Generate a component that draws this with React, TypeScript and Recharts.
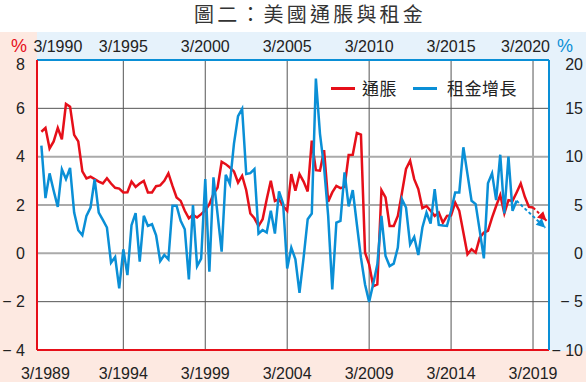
import React from 'react';
import { LineChart, Line, XAxis, YAxis, ReferenceLine, Legend } from 'recharts';

// Quarterly values, index 0 = 3/1989 (bottom axis) for inflation
const inflationValues = [
  5.03, 5.19, 4.34, 4.63, 5.19, 4.72, 6.18, 6.07, 4.9, 4.63,
  3.39, 3.1, 3.17, 3.07, 2.97, 2.89, 3.11, 2.89, 2.71, 2.68,
  2.52, 2.53, 2.97, 2.75, 2.89, 3.0, 2.52, 2.52, 2.78, 2.81,
  3.0, 3.31, 2.79, 2.31, 2.17, 1.76, 1.45, 1.59, 1.48, 1.62,
  1.78, 2.03, 2.45, 2.72, 3.79, 3.69, 3.55, 3.39, 2.93, 3.21,
  2.61, 1.65, 1.45, 1.13, 1.41, 2.24, 3.0, 2.17, 2.24, 1.96,
  1.76, 3.28, 2.59, 3.28, 2.97, 2.56, 4.66, 3.44, 3.42, 4.27,
  2.14, 2.52, 2.79, 2.7, 2.75, 4.07, 4.08, 4.98, 4.91, 0.03,
  -0.46, -1.36, -1.29, 2.61, 2.31, 1.13, 1.13, 1.55, 2.5, 3.49,
  3.83, 3.07, 2.66, 1.87, 1.96, 1.76, 1.55, 1.69, 1.27, 1.55,
  1.57, 2.1, 1.76, 0.86, -0.04, 0.17, 0.03, 0.65, 0.86, 0.93,
  1.48, 1.96, 2.41, 1.65, 2.2, 2.17, 2.52, 2.89, 2.34, 1.92,
  1.9,
];

// Quarterly values, index 0 = 3/1990 (top axis) for rent growth
const rentValues = [
  11.14, 5.71, 8.27, 6.47, 4.81, 8.69, 7.68, 8.83, 4.22, 2.39,
  1.87, 3.88, 4.74, 7.68, 4.22, 3.46, 2.67, -0.97, -0.38, -3.63,
  0.42, -2.25, 2.91, 4.15, -0.86, 3.88, 2.84, 3.01, 1.87, -0.8,
  -0.17, -0.62, 4.92, 4.92, 3.36, 2.49, -2.7, 4.98, -1.32, -0.55,
  7.68, -1.9, 7.86, 4.05, 0.17, 8.13, 7.17, 11.32, 14.19, 14.95,
  8.2, 8.3, 8.72, 2.05, 2.42, 2.15, 4.4, 2.05, 6.4, 5.16,
  -1.56, 0.59, -0.62, -4.08, -0.45, 3.53, 4.12, 18.07, 12.36, 8.9,
  3.88, -3.74, 3.19, 3.36, 8.38, 4.85, 6.54, 3.01, -0.45, -3.22,
  -5.02, -3.15, -1.14, 3.88, -0.28, -1.32, -1.07, 0.59, 5.6, 4.74,
  0.93, 1.7, -0.17, 2.67, 4.22, 3.08, 6.65, 2.94, 2.87, 2.84,
  4.4, 6.3, 6.3, 10.97, 8.2, 5.43, 5.09, 2.32, -0.52, 7.24,
  8.27, 5.5, 10.2, 4.12, 10.0, 4.4, 5.43,
];

// Projections (dashed arrows)
const inflationForecastQuarters = [120, 123.3];
const inflationForecastValues = [1.9, 1.35];
const rentForecastQuarters = [116, 123];
const rentForecastValues = [5.43, 2.65];

const tickQuarters = [0, 20, 40, 60, 80, 100, 120];
const bottomTickLabels = ['3/1989', '3/1994', '3/1999', '3/2004', '3/2009', '3/2014', '3/2019'];
const topTickLabels = ['3/1990', '3/1995', '3/2000', '3/2005', '3/2010', '3/2015', '3/2020'];
const leftTicks = [-4, -2, 0, 2, 4, 6, 8];
const rightTicks = [-10, -5, 0, 5, 10, 15, 20];
const darkGridValues = [6, -2];
const lightGridValues = [4, 2, 0];

const seriesNames = ['通脹', '租金增長'];

const RED = '#e60f19';
const BLUE = '#0a8fd6';
const PINK = '#fde9e1';
const LIGHTBLUE = '#e6f2fb';
const TEXT = '#222';
const FONT = '"Liberation Sans", Arial, sans-serif';
const CJK = '"Noto Sans CJK TC", "Noto Sans CJK SC", sans-serif';

const inflationData = inflationValues.map((v, i) => ({ q: i, v }));
const rentData = rentValues.map((v, i) => ({ q: i, v }));
const inflationForecast = inflationForecastQuarters.map((q, i) => ({ q, v: inflationForecastValues[i] }));
const rentForecast = rentForecastQuarters.map((q, i) => ({ q, v: rentForecastValues[i] }));

const fmtY = (v: number) => (v < 0 ? `\u2212 ${Math.abs(v)}` : `${v}`);

const BottomTick = (props: any) => {
  const { x, y, payload, index } = props;
  const i = tickQuarters.indexOf(payload.value);
  return (
    <text x={x + (index === 0 ? 4 : 0)} y={y + 29} textAnchor="middle" fontFamily={FONT} fontSize={16} fill={TEXT}>
      {bottomTickLabels[i]}
    </text>
  );
};

const TopTick = (props: any) => {
  const { x, y, payload } = props;
  const i = tickQuarters.indexOf(payload.value);
  let anchor: any = 'middle';
  let dx = 0;
  if (i === 0) { anchor = 'start'; dx = -8; }
  if (i === tickQuarters.length - 1) { anchor = 'end'; dx = 17; }
  return (
    <text x={x + dx} y={y - 8} textAnchor={anchor} fontFamily={FONT} fontSize={16} fill={TEXT}>
      {topTickLabels[i]}
    </text>
  );
};

const LeftTick = (props: any) => {
  const { x, y, payload } = props;
  const top = payload.value === leftTicks[leftTicks.length - 1];
  return (
    <text x={x - 12} y={y} dy={top ? 10 : 5.5} textAnchor="end" fontFamily={FONT} fontSize={16} fill={TEXT}>
      {fmtY(payload.value)}
    </text>
  );
};

const RightTick = (props: any) => {
  const { x, y, payload } = props;
  const top = payload.value === rightTicks[rightTicks.length - 1];
  return (
    <text x={x + 34} y={y} dy={top ? 10 : 5.5} textAnchor="end" fontFamily={FONT} fontSize={16} fill={TEXT}>
      {fmtY(payload.value)}
    </text>
  );
};

const makeArrowDot = (color: string) => (props: any) => {
  const { cx, cy, index, points } = props;
  if (index !== 1 || !points || points.length < 2) return <g key={`d-${index}`} />;
  const p0 = points[0];
  const ang = Math.atan2(cy - p0.y, cx - p0.x);
  const len = 9;
  const half = 4.5;
  const bx = cx - len * Math.cos(ang);
  const by = cy - len * Math.sin(ang);
  const nx = -Math.sin(ang);
  const ny = Math.cos(ang);
  const d = `M${cx},${cy} L${bx + half * nx},${by + half * ny} L${bx - half * nx},${by - half * ny} Z`;
  return <path key={`d-${index}`} d={d} fill={color} stroke="none" />;
};

const renderLegend = (props: any) => {
  const { payload } = props;
  const items = seriesNames
    .map((n) => (payload || []).find((p: any) => p.value === n))
    .filter(Boolean);
  return (
    <div style={{ display: 'flex', alignItems: 'center', height: 20 }}>
      {items.map((p: any, i: number) => (
        <div key={p.value} style={{ display: 'flex', alignItems: 'center', marginLeft: i === 0 ? 0 : 16 }}>
          <div style={{ width: 24, height: 3, background: p.color, marginRight: i === 0 ? 7 : 10 }} />
          <span style={{ fontFamily: CJK, fontSize: 17, letterSpacing: 0.5, color: TEXT, lineHeight: '20px' }}>{p.value}</span>
        </div>
      ))}
    </div>
  );
};

const PercentLabel = (color: string, dx: number) => (props: any) => {
  const { viewBox } = props;
  return (
    <text x={viewBox.x + dx} y={viewBox.y - 8} fontFamily={FONT} fontSize={18} fill={color}>%</text>
  );
};

export default function App() {
  return (
    <div style={{ position: 'absolute', left: 0, top: 0, width: 586, height: 382, background: '#fff', overflow: 'hidden' }}>
      {/* backgrounds */}
      <div style={{ position: 'absolute', left: 0, top: 32, width: 586, height: 350, background: LIGHTBLUE }} />
      <div style={{ position: 'absolute', left: 0, top: 32, width: 37, height: 350, background: PINK }} />
      <div style={{ position: 'absolute', left: 0, top: 351, width: 586, height: 31, background: PINK }} />
      <div style={{ position: 'absolute', left: 37, top: 60, width: 512, height: 291, background: '#fff' }} />
      <div style={{ position: 'absolute', left: 194, top: 2, fontFamily: CJK, fontSize: 20, letterSpacing: 3.2, color: '#333', lineHeight: '24px', whiteSpace: 'nowrap' }}>
        圖二：美國通脹與租金
      </div>
      <div style={{ position: 'absolute', left: 0, top: 0 }}>
        <LineChart width={586} height={382} margin={{ top: 30, right: 0, bottom: 0, left: 0 }}>
          <XAxis xAxisId="b" type="number" dataKey="q" domain={[-1.07, 123.9]} allowDataOverflow ticks={tickQuarters} interval={0}
            orientation="bottom" height={32} tickLine={false} tickSize={0} tickMargin={0}
            axisLine={{ stroke: RED, strokeWidth: 2 }} tick={<BottomTick />} />
          <XAxis xAxisId="t" type="number" dataKey="q" domain={[-1.07, 123.9]} allowDataOverflow ticks={tickQuarters} interval={0}
            orientation="top" height={30} tickLine={false} tickSize={0} tickMargin={0}
            axisLine={{ stroke: BLUE, strokeWidth: 2 }} tick={<TopTick />} />
          <YAxis yAxisId="l" type="number" domain={[-4, 8]} ticks={leftTicks} interval={0} width={37}
            tickLine={false} tickSize={0} tickMargin={0} axisLine={{ stroke: RED, strokeWidth: 2 }}
            tick={<LeftTick />} label={PercentLabel(RED, 11)} />
          <YAxis yAxisId="r" type="number" orientation="right" domain={[-10, 20]} ticks={rightTicks} interval={0} width={37}
            tickLine={false} tickSize={0} tickMargin={0} axisLine={{ stroke: BLUE, strokeWidth: 2 }}
            tick={<RightTick />} label={PercentLabel(BLUE, 8)} />

          {tickQuarters.slice(1).map((q) => (
            <ReferenceLine key={`vx-${q}`} xAxisId="b" yAxisId="l" x={q} stroke="#555" strokeWidth={1} />
          ))}
          {darkGridValues.map((v) => (
            <ReferenceLine key={`dg-${v}`} xAxisId="b" yAxisId="l" y={v} stroke="#555" strokeWidth={1} />
          ))}
          {lightGridValues.map((v) => (
            <ReferenceLine key={`lg-${v}`} xAxisId="b" yAxisId="l" y={v} stroke="#aaa" strokeWidth={2} />
          ))}

          <Legend layout="horizontal" verticalAlign="middle" align="center" content={renderLegend}
            wrapperStyle={{ position: 'absolute', top: 78, left: 331, width: 240 }} />

          <Line name={seriesNames[0]} data={inflationData} xAxisId="b" yAxisId="l" dataKey="v" type="linear"
            stroke={RED} strokeWidth={2.5} dot={false} activeDot={false} isAnimationActive={false} />
          <Line name={seriesNames[1]} data={rentData} xAxisId="t" yAxisId="r" dataKey="v" type="linear"
            stroke={BLUE} strokeWidth={2.5} dot={false} activeDot={false} isAnimationActive={false} />
          <Line name="inflationForecast" legendType="none" data={inflationForecast} xAxisId="b" yAxisId="l" dataKey="v" type="linear"
            stroke={RED} strokeWidth={2} strokeDasharray="3 2.5" dot={makeArrowDot(RED)} activeDot={false} isAnimationActive={false} />
          <Line name="rentForecast" legendType="none" data={rentForecast} xAxisId="t" yAxisId="r" dataKey="v" type="linear"
            stroke={BLUE} strokeWidth={2} strokeDasharray="3 2.5" dot={makeArrowDot(BLUE)} activeDot={false} isAnimationActive={false} />
        </LineChart>
      </div>
    </div>
  );
}
